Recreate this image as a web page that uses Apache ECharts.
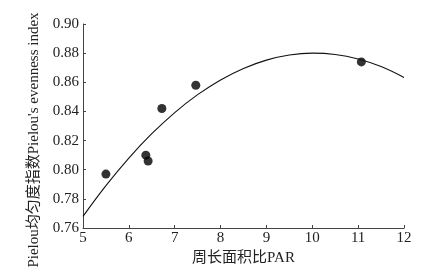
<!DOCTYPE html>
<html>
<head>
<meta charset="utf-8">
<script src="https://cdn.jsdelivr.net/npm/echarts@6/dist/echarts.min.js"></script>
<style>
html, body { margin: 0; padding: 0; background: #fff; }
#chart { width: 430px; height: 275px; }
</style>
</head>
<body>
<div id="chart"></div>
<script>
// observed sites: PAR vs Pielou evenness
var parValues = [5.5, 6.37, 6.42, 6.72, 7.46, 11.07];
var evenness = [0.797, 0.810, 0.806, 0.842, 0.858, 0.874];

// fitted curve, every 0.5
var fitX = [5, 5.5, 6, 6.5, 7, 7.5, 8, 8.5, 9, 9.5, 10, 10.5, 11, 11.5, 12];
var fitY = [0.7680, 0.7891, 0.8080, 0.8247, 0.8392, 0.8515, 0.8616, 0.8695, 0.8752, 0.8787, 0.8800, 0.8791, 0.8760, 0.8708, 0.8633];

var xTicks = [5, 6, 7, 8, 9, 10, 11, 12];

var serif = "'Liberation Serif', 'Times New Roman', 'Noto Sans CJK SC', serif";

var pts = parValues.map(function (v, i) { return [v, evenness[i]]; });
var curve = fitX.map(function (v, i) { return [v, fitY[i]]; });

var myChart = echarts.init(document.getElementById('chart'));
myChart.setOption({
    backgroundColor: '#fff',
    animation: false,
    grid: { left: 83, right: 26, top: 24, bottom: 47 },
    xAxis: {
        type: 'value',
        min: xTicks[0],
        max: xTicks[xTicks.length - 1],
        interval: 1,
        name: '周长面积比PAR',
        nameLocation: 'middle',
        nameGap: 23,
        nameTextStyle: { fontFamily: serif, fontSize: 15, color: '#222' },
        axisLine: { lineStyle: { color: '#444', width: 1 } },
        axisTick: { inside: true, length: 3, lineStyle: { color: '#444' } },
        axisLabel: { fontFamily: serif, fontSize: 15, color: '#222', margin: 3 },
        splitLine: { show: false }
    },
    yAxis: {
        type: 'value',
        min: 0.76,
        max: 0.90,
        interval: 0.02,
        name: "Pielou均匀度指数Pielou's evenness index",
        nameLocation: 'middle',
        nameGap: 37,
        nameTextStyle: { fontFamily: serif, fontSize: 15, color: '#222', padding: [0, 0, 0, -28] },
        axisLine: { lineStyle: { color: '#444', width: 1 } },
        axisTick: { inside: true, length: 3, lineStyle: { color: '#444' } },
        axisLabel: {
            fontFamily: serif, fontSize: 15, color: '#222', margin: 4,
            formatter: function (v) { return v.toFixed(2); }
        },
        splitLine: { show: false }
    },
    series: [
        {
            type: 'line',
            data: curve,
            smooth: 0.4,
            showSymbol: false,
            lineStyle: { color: '#111', width: 1.1 }
        },
        {
            type: 'scatter',
            data: pts,
            symbol: 'circle',
            symbolSize: 9,
            itemStyle: { color: '#000' }
        }
    ]
});
</script>
</body>
</html>
